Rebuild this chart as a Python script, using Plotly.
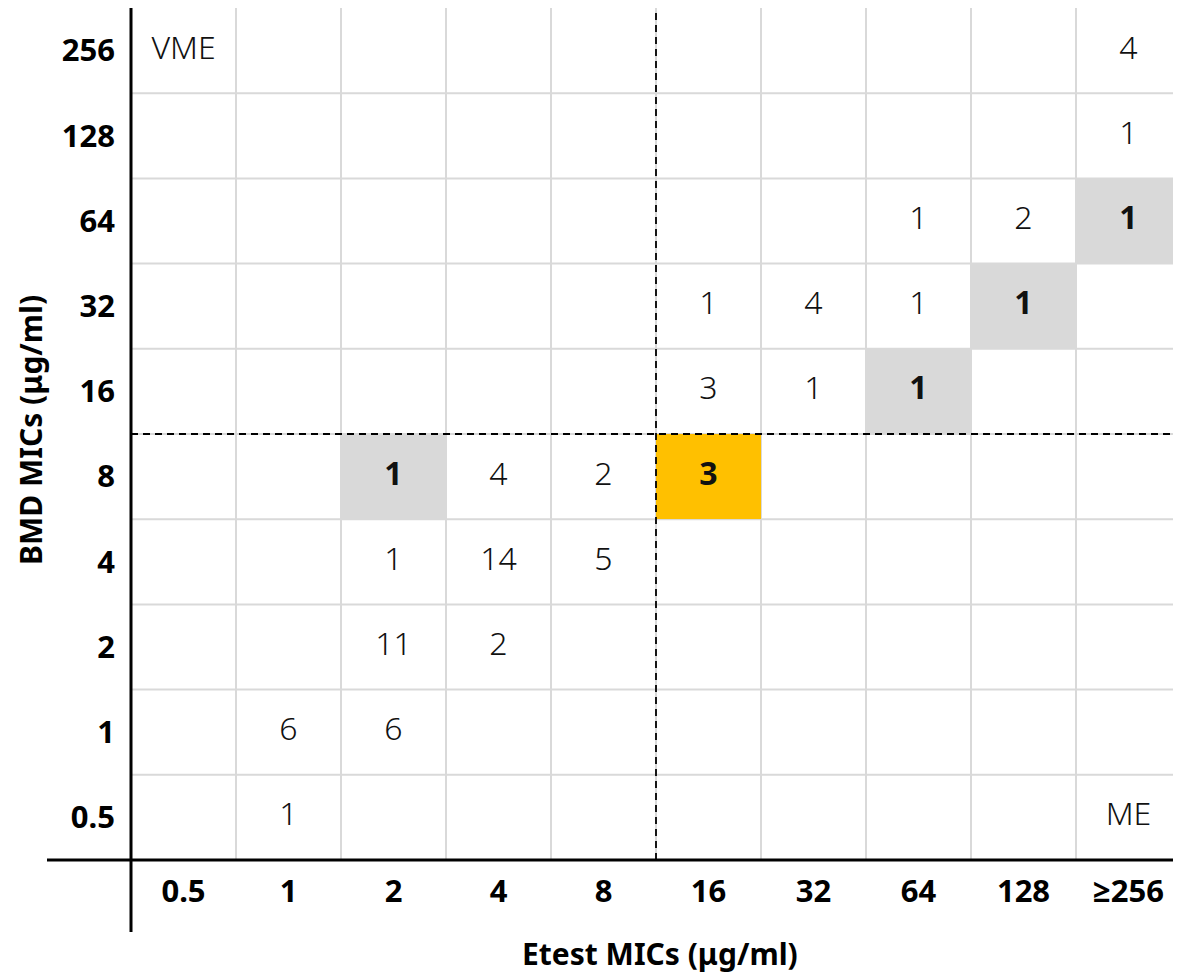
import plotly.graph_objects as go

# ---- data ----
etest_labels = ["0.5", "1", "2", "4", "8", "16", "32", "64", "128", "≥256"]
bmd_labels = ["0.5", "1", "2", "4", "8", "16", "32", "64", "128", "256"]

# counts[bmd_index][etest_index]; None = empty cell
counts = [
    [None, 1, None, None, None, None, None, None, None, None],   # 0.5
    [None, 6, 6, None, None, None, None, None, None, None],      # 1
    [None, None, 11, 2, None, None, None, None, None, None],     # 2
    [None, None, 1, 14, 5, None, None, None, None, None],        # 4
    [None, None, 1, 4, 2, 3, None, None, None, None],            # 8
    [None, None, None, None, None, 3, 1, 1, None, None],         # 16
    [None, None, None, None, None, 1, 4, 1, 1, None],            # 32
    [None, None, None, None, None, None, None, 1, 2, 1],         # 64
    [None, None, None, None, None, None, None, None, None, 1],    # 128
    [None, None, None, None, None, None, None, None, None, 4],    # 256
]

gray_cells = [("2", "8"), ("64", "16"), ("128", "32"), ("≥256", "64")]  # (etest, bmd)
gold_cells = [("16", "8")]
breakpoint_etest = "16"
breakpoint_bmd = "16"
corner_labels = [("0.5", "256", "VME"), ("≥256", "0.5", "ME")]

FONT = "Noto Sans, Open Sans, sans-serif"
GRID = "#d9d9d9"
GRAY = "#d9d9d9"
GOLD = "#ffc000"

nx, ny = len(etest_labels), len(bmd_labels)

# highlight heatmap
hz = [[None] * nx for _ in range(ny)]
for ex, by in gray_cells:
    hz[bmd_labels.index(by)][etest_labels.index(ex)] = 1
for ex, by in gold_cells:
    hz[bmd_labels.index(by)][etest_labels.index(ex)] = 2

fig = go.Figure()
fig.add_trace(go.Heatmap(
    z=hz, x=list(range(nx)), y=list(range(ny)),
    zmin=1, zmax=2,
    colorscale=[[0, GRAY], [0.5, GRAY], [0.5, GOLD], [1, GOLD]],
    showscale=False, hoverinfo="skip",
))

tx, ty, tt = [], [], []
for j in range(ny):
    for i in range(nx):
        v = counts[j][i]
        if v is None:
            continue
        hl = hz[j][i] is not None
        tx.append(i)
        ty.append(j)
        tt.append(f"<b>{v}</b>" if hl else str(v))
for ex, by, lab in corner_labels:
    tx.append(etest_labels.index(ex))
    ty.append(bmd_labels.index(by))
    tt.append(lab)

fig.add_trace(go.Scatter(
    x=tx, y=ty, text=tt, mode="text",
    textfont=dict(family=FONT, size=32, color="#111111", weight=300),
    hoverinfo="skip", showlegend=False,
))

# page layout (the page body adds an 8px offset)
W, H = 1173, 969
L, R, T, B = 123, 0, 0, 117
pw, ph = W - L - R, H - T - B
OFF = 8


def px(sx):
    return (sx - OFF - L) / pw


def py(sy):
    return (H - B - (sy - OFF)) / ph


shapes = []
# grid lines
for k in range(1, nx):
    shapes.append(dict(type="line", xref="x", yref="y", x0=k - 0.5, x1=k - 0.5,
                       y0=-0.5, y1=ny - 0.5, line=dict(color=GRID, width=2), layer="below"))
for k in range(1, ny):
    shapes.append(dict(type="line", xref="x", yref="y", y0=k - 0.5, y1=k - 0.5,
                       x0=-0.5, x1=nx - 0.5, line=dict(color=GRID, width=2), layer="below"))
# breakpoint dashed lines
bx = etest_labels.index(breakpoint_etest) - 0.5
byy = bmd_labels.index(breakpoint_bmd) - 0.5
shapes.append(dict(type="line", xref="x", yref="y", x0=bx, x1=bx, y0=-0.5, y1=ny - 0.5,
                   line=dict(color="black", width=1.8, dash="7px,5px"), layer="above"))
shapes.append(dict(type="line", xref="x", yref="y", y0=byy, y1=byy, x0=-0.5, x1=nx - 0.5,
                   line=dict(color="black", width=1.8, dash="7px,5px"), layer="above"))
# axis frame lines (extend beyond plot)
shapes.append(dict(type="line", xref="paper", yref="paper",
                   x0=px(47), x1=1.0, y0=0, y1=0,
                   line=dict(color="black", width=3), layer="above"))
shapes.append(dict(type="line", xref="paper", yref="paper",
                   x0=0, x1=0, y0=py(932), y1=1.0,
                   line=dict(color="black", width=3), layer="above"))

fig.update_layout(
    width=W, height=H,
    margin=dict(l=L, r=R, t=T, b=B, autoexpand=False),
    plot_bgcolor="white", paper_bgcolor="white",
    shapes=shapes,
    showlegend=False,
    font=dict(family=FONT, color="black"),
    xaxis=dict(range=[-0.5, nx - 0.5], tickvals=list(range(nx)), ticktext=etest_labels,
               showgrid=False, zeroline=False, showline=False, ticks="",
               tickfont=dict(family=FONT, size=31, weight="bold", color="black"),
               ticklabelstandoff=10, fixedrange=True),
    yaxis=dict(range=[-0.5, ny - 0.5], tickvals=list(range(ny)), ticktext=bmd_labels,
               showgrid=False, zeroline=False, showline=False, ticks="",
               tickfont=dict(family=FONT, size=31, weight="bold", color="black"),
               ticklabelstandoff=15, fixedrange=True),
    annotations=[
        dict(text="<b>Etest MICs (μg/ml)</b>", xref="paper", yref="paper",
             x=px(660), y=py(953), showarrow=False,
             xanchor="center", yanchor="middle",
             font=dict(family=FONT, size=30, color="black")),
        dict(text="<b>BMD MICs (μg/ml)</b>", xref="paper", yref="paper",
             x=px(30), y=py(430), showarrow=False, textangle=-90,
             xanchor="center", yanchor="middle",
             font=dict(family=FONT, size=30, color="black")),
    ],
)

fig.write_html("out.html")
